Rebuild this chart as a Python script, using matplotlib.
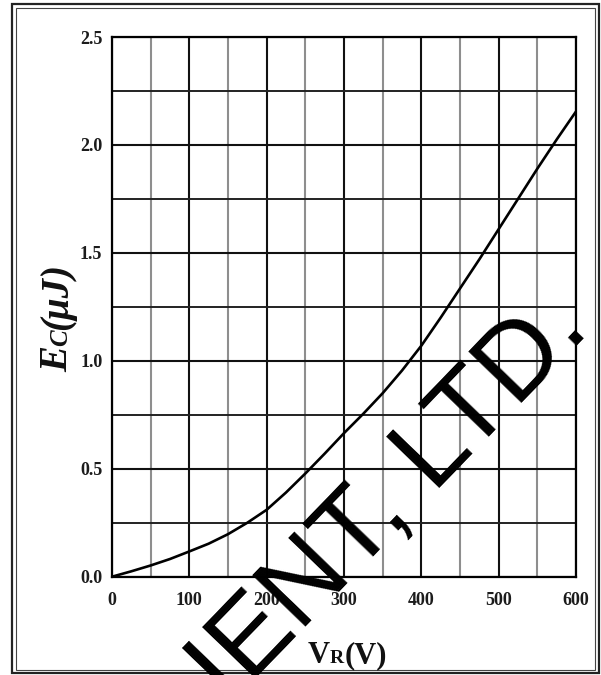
import matplotlib
matplotlib.use("Agg")
import matplotlib.pyplot as plt
from matplotlib.patches import Rectangle
from matplotlib.transforms import IdentityTransform
import numpy as np

# reverse voltage (V) vs. capacitive stored energy (uJ)
vr = [0, 25, 50, 75, 100, 125, 150, 175, 200, 225, 250, 275, 300,
      325, 350, 375, 400, 425, 450, 475, 500, 525, 550, 575, 600]
ec = [0.0, 0.025, 0.052, 0.082, 0.117, 0.153, 0.197, 0.25, 0.31, 0.39, 0.478, 0.57, 0.665,
      0.755, 0.85, 0.955, 1.07, 1.20, 1.335, 1.47, 1.61, 1.75, 1.89, 2.025, 2.155]

x_major = [0, 100, 200, 300, 400, 500, 600]
x_minor = [50, 150, 250, 350, 450, 550]
y_major = [0.0, 0.5, 1.0, 1.5, 2.0, 2.5]
y_minor = [0.25, 0.75, 1.25, 1.75, 2.25]
watermark = "IENT, LTD."

W, H = 601, 675
fig = plt.figure(figsize=(W / 100, H / 100), dpi=100)
ax = fig.add_axes([112 / W, 1 - 576.7 / H, (576 - 112) / W, (576.7 - 37) / H])

serif = "Liberation Serif"

ax.plot(vr, ec, color="black", lw=1.9, zorder=3, solid_capstyle="round",
        solid_joinstyle="round")
ax.set_xlim(0, 600)
ax.set_ylim(0, 2.5)
ax.set_xticks(x_major)
ax.set_xticks(x_minor, minor=True)
ax.set_yticks(y_major)
ax.set_yticks(y_minor, minor=True)
ax.set_xticklabels([str(v) for v in x_major])
ax.set_yticklabels(["%.1f" % v for v in y_major])
ax.grid(which="major", axis="both", color="#111111", lw=1.5, zorder=1)
ax.grid(which="minor", axis="y", color="#222222", lw=1.4, zorder=1)
ax.grid(which="minor", axis="x", color="#8e8e8e", lw=1.5, zorder=1)
ax.set_axisbelow(True)
ax.tick_params(which="both", length=0)
ax.tick_params(axis="x", pad=11)
ax.tick_params(axis="y", pad=7)
for lab in ax.get_xticklabels() + ax.get_yticklabels():
    lab.set_fontfamily(serif)
    lab.set_fontweight("bold")
    lab.set_fontsize(13)
    lab.set_color("#1c1c1c")
for sp in ax.spines.values():
    sp.set_linewidth(1.6)
    sp.set_color("black")

# double frame round the whole figure
fig.patches.append(Rectangle((11.5, H - 673), 587, 669, fill=False, lw=1.6,
                             ec="#222222", transform=IdentityTransform()))
fig.patches.append(Rectangle((15.5, H - 669.5), 579, 661.5, fill=False, lw=0.8,
                             ec="#444444", transform=IdentityTransform()))

fig.canvas.draw()
renderer = fig.canvas.get_renderer()


def run_text(x0, y0, pieces, rotation=0, style="normal"):
    # lays out text pieces of different sizes one after another (pixel coords)
    pos = 0.0
    for s, size in pieces:
        if rotation == 0:
            x, y = x0 + pos, y0
        else:
            x, y = x0, y0 + pos
        t = fig.text(x, y, s, transform=IdentityTransform(), fontsize=size,
                     family=serif, weight="bold", style=style, rotation=rotation,
                     rotation_mode="anchor", ha="left", va="baseline", color="#111111")
        ext = t.get_window_extent(renderer)
        pos += ext.width if rotation == 0 else ext.height


run_text(308, H - 663, [("V", 22), ("R", 14), ("(V)", 22)])
run_text(67, H - 372, [("E", 28), ("C", 18), ("(μJ)", 28)], rotation=90, style="italic")

fig.text(229, H - 706, watermark, transform=IdentityTransform(), fontsize=78,
         family="Liberation Sans", color="black", rotation=46,
         rotation_mode="anchor", ha="left", va="baseline", zorder=10)

fig.savefig("out.png", dpi=100)
